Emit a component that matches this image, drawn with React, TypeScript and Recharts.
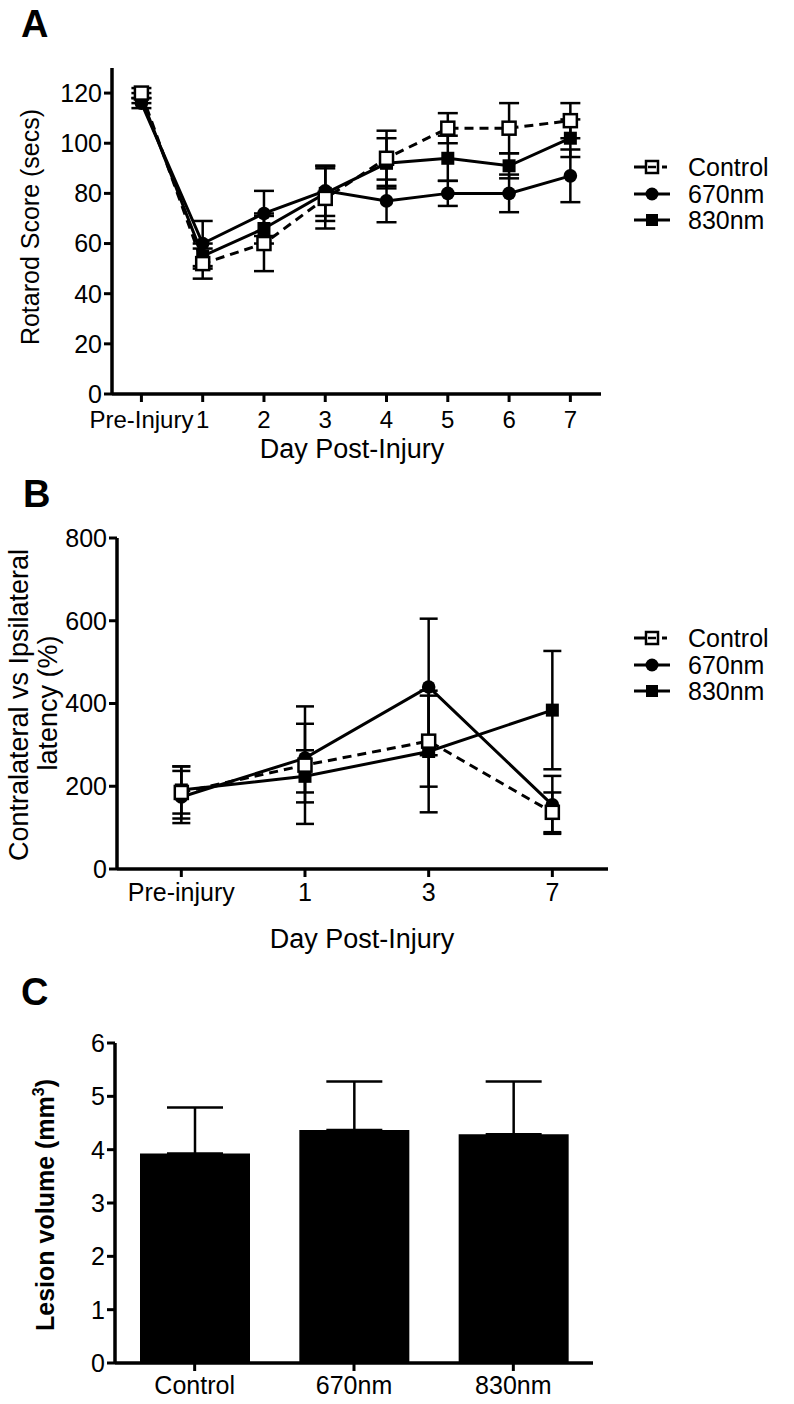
import React from 'react';
import { LineChart, Line, BarChart, Bar, XAxis, YAxis, ErrorBar } from 'recharts';

const FONT = "'Liberation Sans', Arial, Helvetica, sans-serif";

// ---- Panel A: rotarod score ----
const daysA = [0, 1, 2, 3, 4, 5, 6, 7];
const dayLabelsA = ['Pre-Injury', '1', '2', '3', '4', '5', '6', '7'];
const yTicksA = [0, 20, 40, 60, 80, 100, 120];
const controlA = [120, 52, 60, 78, 94, 106, 106, 109];
const controlErrA = [2, 6, 11, 12, 11, 6, 10, 7];
const nm670A = [116, 60, 72, 81, 77, 80, 80, 87];
const nm670ErrA = [2, 9, 9, 10, 8.5, 5, 7.5, 10.5];
const nm830A = [118, 55, 66, 80, 92, 94, 91, 102];
const nm830ErrA = [2, 5, 6, 11, 10, 9, 5, 7.5];

// ---- Panel B: contralateral vs ipsilateral latency ----
const daysB = [0, 1, 2, 3];
const dayLabelsB = ['Pre-injury', '1', '3', '7'];
const yTicksB = [0, 200, 400, 600, 800];
const controlB = [185, 251, 309, 137];
const controlErrB = [63, 142, 110, 48];
const nm670B = [174, 268, 440, 155];
const nm670ErrB = [63, 83, 165, 70];
const nm830B = [191, 224, 284, 384];
const nm830ErrB = [57, 63, 147, 143];

// ---- Panel C: lesion volume ----
const groupsC = ['Control', '670nm', '830nm'];
const yTicksC = [0, 1, 2, 3, 4, 5, 6];
const lesionC = [3.93, 4.37, 4.29];
const lesionErrC = [0.86, 0.91, 0.99];

const seriesNames = ['Control', '670nm', '830nm'];

const dataA = daysA.map((d, i) => ({
  day: d,
  control: controlA[i], controlErr: controlErrA[i],
  nm670: nm670A[i], nm670Err: nm670ErrA[i],
  nm830: nm830A[i], nm830Err: nm830ErrA[i],
}));

const dataB = daysB.map((d, i) => ({
  day: d,
  control: controlB[i], controlErr: controlErrB[i],
  nm670: nm670B[i], nm670Err: nm670ErrB[i],
  nm830: nm830B[i], nm830Err: nm830ErrB[i],
}));

const dataC = groupsC.map((g, i) => ({
  group: g,
  lesion: lesionC[i],
  lesionErr: [0, lesionErrC[i]],
}));

const axisLine = { stroke: '#000', strokeWidth: 3.5 };
const tickLine = { stroke: '#000', strokeWidth: 3 };
const tickStyle = { fill: '#000', fontSize: 25, fontFamily: FONT };
const tickStyleA = { ...tickStyle, fontSize: 24 };

const OpenSquare = ({ cx, cy }: any) =>
  cx == null ? null : (
    <rect x={cx - 6.5} y={cy - 6.5} width={13} height={13} fill="#fff" stroke="#000" strokeWidth={2.5} />
  );
const FilledSquare = ({ cx, cy }: any) =>
  cx == null ? null : <rect x={cx - 6.5} y={cy - 6.5} width={13} height={13} fill="#000" />;
const FilledCircle = ({ cx, cy }: any) =>
  cx == null ? null : <circle cx={cx} cy={cy} r={6.8} fill="#000" />;

function LegendIcon({ kind }: { kind: number }) {
  if (kind === 0) {
    return (
      <svg width={40} height={24}>
        <line x1={2} y1={12} x2={13} y2={12} stroke="#000" strokeWidth={3} />
        <rect x={14} y={6} width={12} height={12} fill="#fff" stroke="#000" strokeWidth={2.5} />
        <line x1={16} y1={12} x2={24} y2={12} stroke="#000" strokeWidth={2.5} />
        <line x1={30} y1={12} x2={35} y2={12} stroke="#000" strokeWidth={3} />
      </svg>
    );
  }
  return (
    <svg width={40} height={24}>
      <line x1={2} y1={12} x2={38} y2={12} stroke="#000" strokeWidth={3} />
      {kind === 1 ? <circle cx={20} cy={12} r={6.5} fill="#000" /> : <rect x={14} y={6} width={12} height={12} fill="#000" />}
    </svg>
  );
}

function SeriesLegend({ top }: { top: number }) {
  return (
    <div style={{ position: 'absolute', left: 632, top, fontFamily: FONT, fontSize: 25, color: '#000' }}>
      {seriesNames.map((name, i) => (
        <div key={name} style={{ display: 'flex', alignItems: 'center', height: 26.5 }}>
          <LegendIcon kind={i} />
          <span style={{ marginLeft: 16, lineHeight: '24px' }}>{name}</span>
        </div>
      ))}
    </div>
  );
}

export default function App() {
  return (
    <div style={{ position: 'absolute', left: 0, top: 0, width: 794, height: 1404, background: '#fff', overflow: 'hidden' }}>
      {/* Panel A */}
      <div style={{ position: 'absolute', left: 0, top: 0 }}>
        <LineChart width={794} height={470} data={dataA} margin={{ top: 68, right: 193, bottom: 30, left: 52 }}>
          <XAxis
            type="number" dataKey="day" domain={[-0.48, 7.5]} ticks={daysA} interval={0}
            tickFormatter={(v: number) => dayLabelsA[v]} height={46} tickMargin={9}
            axisLine={axisLine} tickLine={tickLine} tickSize={8} tick={tickStyleA}
          />
          <YAxis
            type="number" domain={[0, 130]} ticks={yTicksA} interval={0} width={60}
            axisLine={axisLine} tickLine={tickLine} tickSize={8} tick={tickStyle}
          />
          <Line dataKey="nm670" stroke="#000" strokeWidth={3} isAnimationActive={false} activeDot={false}
            dot={(p: any) => <FilledCircle key={`a670-${p.index}`} {...p} />}>
            <ErrorBar dataKey="nm670Err" width={10} stroke="#000" strokeWidth={2.5} direction="y" />
          </Line>
          <Line dataKey="nm830" stroke="#000" strokeWidth={3} isAnimationActive={false} activeDot={false}
            dot={(p: any) => <FilledSquare key={`a830-${p.index}`} {...p} />}>
            <ErrorBar dataKey="nm830Err" width={10} stroke="#000" strokeWidth={2.5} direction="y" />
          </Line>
          <Line dataKey="control" stroke="#000" strokeWidth={3} strokeDasharray="9 6" isAnimationActive={false} activeDot={false}
            dot={(p: any) => <OpenSquare key={`ac-${p.index}`} {...p} />}>
            <ErrorBar dataKey="controlErr" width={10} stroke="#000" strokeWidth={2.5} direction="y" />
          </Line>
        </LineChart>
      </div>
      <SeriesLegend top={154} />

      {/* Panel B */}
      <div style={{ position: 'absolute', left: 0, top: 470 }}>
        <LineChart width={794} height={470} data={dataB} margin={{ top: 68, right: 186, bottom: 25, left: 57 }}>
          <XAxis
            type="number" dataKey="day" domain={[-0.52, 3.45]} ticks={daysB} interval={0}
            tickFormatter={(v: number) => dayLabelsB[v]} height={46} tickMargin={6}
            axisLine={axisLine} tickLine={tickLine} tickSize={8} tick={tickStyle}
          />
          <YAxis
            type="number" domain={[0, 800]} ticks={yTicksB} interval={0} width={60}
            axisLine={axisLine} tickLine={tickLine} tickSize={8} tick={tickStyle}
          />
          <Line dataKey="nm670" stroke="#000" strokeWidth={3} isAnimationActive={false} activeDot={false}
            dot={(p: any) => <FilledCircle key={`b670-${p.index}`} {...p} />}>
            <ErrorBar dataKey="nm670Err" width={9} stroke="#000" strokeWidth={2.5} direction="y" />
          </Line>
          <Line dataKey="nm830" stroke="#000" strokeWidth={3} isAnimationActive={false} activeDot={false}
            dot={(p: any) => <FilledSquare key={`b830-${p.index}`} {...p} />}>
            <ErrorBar dataKey="nm830Err" width={9} stroke="#000" strokeWidth={2.5} direction="y" />
          </Line>
          <Line dataKey="control" stroke="#000" strokeWidth={3} strokeDasharray="9 6" isAnimationActive={false} activeDot={false}
            dot={(p: any) => <OpenSquare key={`bc-${p.index}`} {...p} />}>
            <ErrorBar dataKey="controlErr" width={9} stroke="#000" strokeWidth={2.5} direction="y" />
          </Line>
        </LineChart>
      </div>
      <SeriesLegend top={625} />

      {/* Panel C */}
      <div style={{ position: 'absolute', left: 0, top: 960 }}>
        <BarChart width={794} height={444} data={dataC} margin={{ top: 83, right: 201, bottom: 3, left: 55 }}>
          <XAxis
            dataKey="group" height={38} interval={0} tickMargin={5}
            axisLine={axisLine} tickLine={tickLine} tickSize={8} tick={tickStyle}
          />
          <YAxis
            type="number" domain={[0, 6]} ticks={yTicksC} interval={0} width={60}
            axisLine={axisLine} tickLine={tickLine} tickSize={8} tick={tickStyle}
          />
          <Bar dataKey="lesion" fill="#000" barSize={110} isAnimationActive={false}>
            <ErrorBar dataKey="lesionErr" width={28} stroke="#000" strokeWidth={2.5} direction="y" />
          </Bar>
        </BarChart>
      </div>

      {/* titles and panel letters */}
      <svg width={794} height={1404} style={{ position: 'absolute', left: 0, top: 0, pointerEvents: 'none' }}
        fontFamily={FONT} fill="#000">
        <text x={21} y={37} fontSize={38} fontWeight="bold">A</text>
        <text x={23} y={507} fontSize={38} fontWeight="bold">B</text>
        <text x={21} y={1005} fontSize={38} fontWeight="bold">C</text>

        <text transform="translate(39,227) rotate(-90)" textAnchor="middle" fontSize={25}>Rotarod Score (secs)</text>
        <text x={352} y={458} textAnchor="middle" fontSize={27}>Day Post-Injury</text>

        <text transform="translate(28,705) rotate(-90)" textAnchor="middle" fontSize={27}>Contralateral vs Ipsilateral</text>
        <text transform="translate(57,703) rotate(-90)" textAnchor="middle" fontSize={27}>latency (%)</text>
        <text x={362} y={948} textAnchor="middle" fontSize={27}>Day Post-Injury</text>

        <text transform="translate(54,1205) rotate(-90)" textAnchor="middle" fontSize={25} fontWeight="bold">
          Lesion volume (mm<tspan fontSize={16} dy={-10}>3</tspan><tspan dy={10}>)</tspan>
        </text>
      </svg>
    </div>
  );
}
